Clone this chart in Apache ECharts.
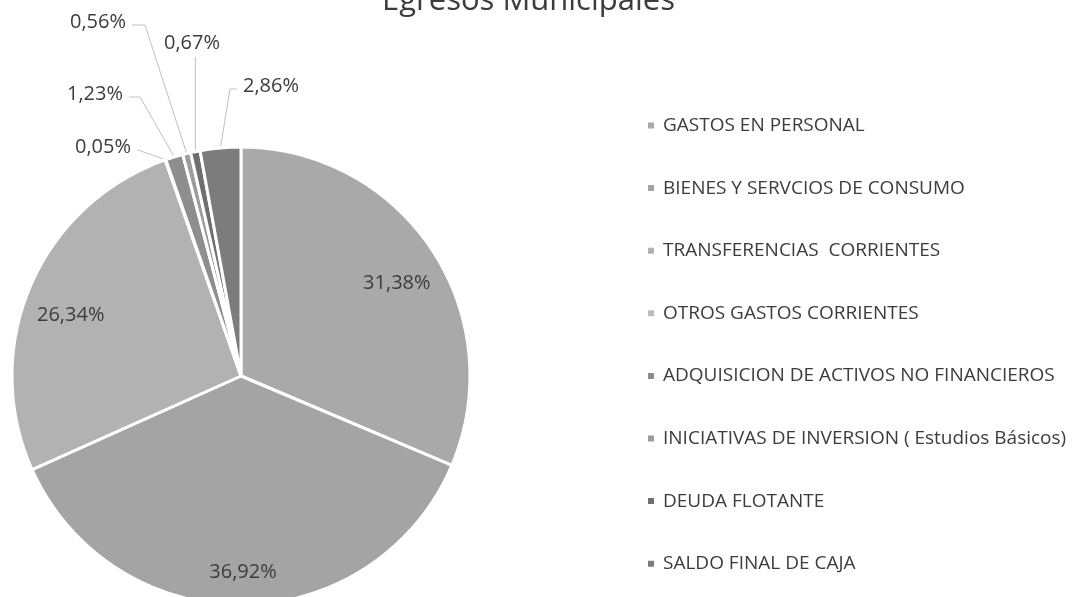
<!DOCTYPE html>
<html>
<head>
<meta charset="utf-8">
<script src="https://cdn.jsdelivr.net/npm/echarts@6/dist/echarts.min.js"></script>
<style>html,body{margin:0;padding:0;background:#fff;}#c{width:1072px;height:597px;}</style>
</head>
<body>
<div id="c"></div>
<script>
const titleText = 'Egresos Municipales';
const categories = [
  'GASTOS EN PERSONAL',
  'BIENES Y SERVCIOS DE CONSUMO',
  'TRANSFERENCIAS  CORRIENTES',
  'OTROS GASTOS CORRIENTES',
  'ADQUISICION DE ACTIVOS NO FINANCIEROS',
  'INICIATIVAS DE INVERSION ( Estudios Básicos)',
  'DEUDA FLOTANTE',
  'SALDO FINAL DE CAJA'
];
const percentages = [31.38, 36.92, 26.34, 0.05, 1.23, 0.56, 0.67, 2.86];

const colors = ['#a9a9a9', '#a4a4a4', '#b2b2b2', '#bdbdbd', '#8e8e8e', '#9c9c9c', '#6f6f6f', '#7c7c7c'];
const CX = 241, CY = 376, R = 229;
// inside label placement for the three big slices: [radial factor, dx, dy]
const insideLayout = [[0.79, 5, 7], [0.85, 0, 2], [0.80, -2, 12]];
// outside label placement for the small slices: [x, y, align, elbowX]
const outside = {
  3: [131, 147, 'right', 138],
  4: [123, 94, 'right', 140],
  5: [126, 22, 'right', 145],
  6: [192, 43, 'center', null],
  7: [243, 86, 'left', 230]
};

const total = percentages.reduce((a, b) => a + b, 0);
const midAngles = [];
{
  let acc = 0;
  percentages.forEach(v => { midAngles.push((acc + v / 2) / total * 2 * Math.PI); acc += v; });
}

const chart = echarts.init(document.getElementById('c'), null, {renderer: 'canvas'});
const fmt = v => v.toFixed(2).replace('.', ',') + '%';
chart.setOption({
  backgroundColor: '#ffffff',
  animation: false,
  title: {
    text: titleText, left: 377, top: -19,
    textStyle: {fontFamily: 'Open Sans', fontSize: 31, fontWeight: 'normal', color: '#3c3c3c'}
  },
  legend: {
    orient: 'vertical', left: 646, top: 116, itemGap: 43.6, padding: 0,
    itemWidth: 8, itemHeight: 8, icon: 'rect',
    textStyle: {fontFamily: 'Open Sans', fontSize: 19, color: '#3c3c3c', padding: [0, 0, 0, 3]},
    data: categories
  },
  series: [{
    type: 'pie',
    center: [CX, CY], radius: R,
    startAngle: 90, clockwise: true,
    avoidLabelOverlap: false,
    itemStyle: {borderColor: '#ffffff', borderWidth: 3},
    label: {
      fontFamily: 'Open Sans', fontSize: 20, color: '#3c3c3c',
      formatter: p => fmt(p.value)
    },
    labelLine: {lineStyle: {color: '#c0c0c0', width: 1}, length: 10, length2: 10},
    labelLayout: function (params) {
      const i = params.dataIndex;
      if (i < 3) {
        const a = midAngles[i], L = insideLayout[i], k = L[0] * R;
        return {x: CX + k * Math.sin(a) + L[1], y: CY - k * Math.cos(a) + L[2], align: 'center', verticalAlign: 'middle'};
      }
      const o = outside[i];
      const p0 = params.labelLinePoints ? params.labelLinePoints[0] : [CX, CY - R];
      let pts;
      if (o[2] === 'center') {
        pts = [[p0[0], p0[1]], [p0[0], o[1] + 14], [p0[0], o[1] + 14]];
      } else {
        const sx = o[2] === 'right' ? o[0] + 6 : o[0] - 6;
        pts = [[p0[0], p0[1]], [o[3], o[1] + 3], [sx, o[1] + 3]];
      }
      return {x: o[0], y: o[1], align: o[2], verticalAlign: 'middle', labelLinePoints: pts};
    },
    data: categories.map((c, i) => ({
      name: c, value: percentages[i],
      itemStyle: {color: colors[i]},
      label: {position: i < 3 ? 'inside' : 'outside'},
      labelLine: {show: i >= 3}
    }))
  }]
});
</script>
</body>
</html>
